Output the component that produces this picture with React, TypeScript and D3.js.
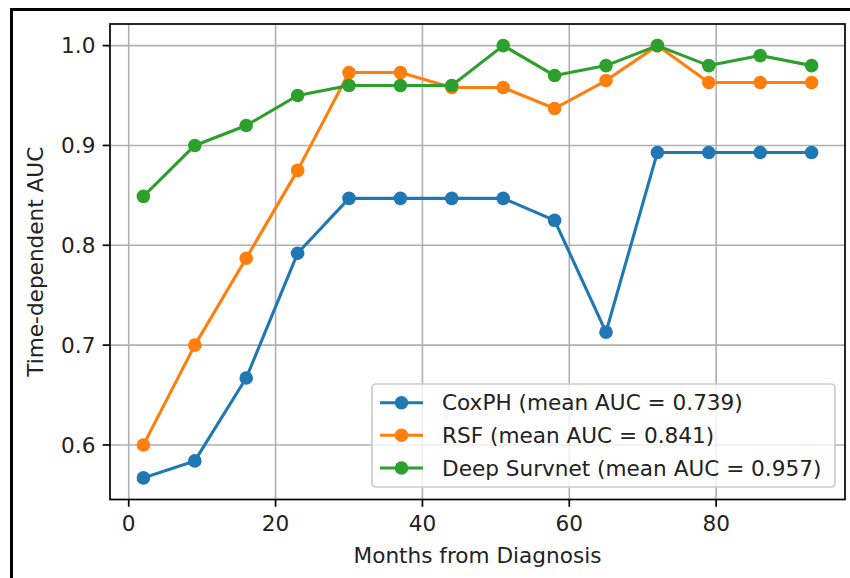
import React from "react";
import * as d3 from "d3";

const months = [2, 9, 16, 23, 30, 37, 44, 51, 58, 65, 72, 79, 86, 93];
const coxph = [0.567, 0.584, 0.667, 0.792, 0.847, 0.847, 0.847, 0.847, 0.825, 0.713, 0.893, 0.893, 0.893, 0.893];
const rsf = [0.6, 0.7, 0.787, 0.875, 0.973, 0.973, 0.958, 0.958, 0.937, 0.965, 1.0, 0.963, 0.963, 0.963];
const deepSurvnet = [0.849, 0.9, 0.92, 0.95, 0.96, 0.96, 0.96, 1.0, 0.97, 0.98, 1.0, 0.98, 0.99, 0.98];
const seriesNames = ["CoxPH (mean AUC = 0.739)", "RSF (mean AUC = 0.841)", "Deep Survnet (mean AUC = 0.957)"];
const seriesColors = ["#1f77b4", "#ff7f0e", "#2ca02c"];
const xTicks = [0, 20, 40, 60, 80];
const yTicks = [0.6, 0.7, 0.8, 0.9, 1.0];

const W = 850;
const H = 578;
const L = 110, R = 845, T = 24, B = 499.5;
const FONT = "'DejaVu Sans', sans-serif";
const FS = 21.6;

export default function App() {
  const allSeries = [coxph, rsf, deepSurvnet];
  const xMin = d3.min(months)!, xMax = d3.max(months)!;
  const xPad = (xMax - xMin) * 0.05;
  const allY = allSeries.flat();
  const yMin = d3.min(allY)!, yMax = d3.max(allY)!;
  const yPad = (yMax - yMin) * 0.05;
  const x = d3.scaleLinear().domain([xMin - xPad, xMax + xPad]).range([L, R]);
  const y = d3.scaleLinear().domain([yMin - yPad, yMax + yPad]).range([B, T]);
  const line = d3.line<[number, number]>().x(d => x(d[0])).y(d => y(d[1]));

  const legX = 372, legY = 384, legW = 463, legH = 103;
  const rowY = [402.7, 435.3, 468];

  return (
    <svg width={W} height={H} style={{ position: "absolute", left: 0, top: 0, background: "#fff" }}>
      <rect x={0} y={0} width={W} height={H} fill="#fff" />
      <rect x={11.5} y={9.5} width={W + 50} height={H + 50} fill="none" stroke="#000" strokeWidth={3} />
      {/* grid */}
      {xTicks.map(t => (
        <line key={"gx" + t} x1={x(t)} x2={x(t)} y1={T} y2={B} stroke="#b0b0b0" strokeWidth={1.6} />
      ))}
      {yTicks.map(t => (
        <line key={"gy" + t} x1={L} x2={R} y1={y(t)} y2={y(t)} stroke="#b0b0b0" strokeWidth={1.6} />
      ))}
      {/* series */}
      {allSeries.map((s, i) => (
        <g key={"s" + i}>
          <path d={line(months.map((m, j) => [m, s[j]] as [number, number]))!} fill="none" stroke={seriesColors[i]} strokeWidth={3.1} strokeLinejoin="round" strokeLinecap="square" />
          {s.map((v, j) => (
            <circle key={j} cx={x(months[j])} cy={y(v)} r={6.8} fill={seriesColors[i]} />
          ))}
        </g>
      ))}
      {/* spines */}
      <rect x={L} y={T} width={R - L} height={B - T} fill="none" stroke="#000" strokeWidth={1.7} />
      {/* ticks */}
      {xTicks.map(t => (
        <g key={"tx" + t}>
          <line x1={x(t)} x2={x(t)} y1={B} y2={B + 7.3} stroke="#000" strokeWidth={1.7} />
          <text x={x(t)} y={B + 14.6} dy="0.76em" textAnchor="middle" fontFamily={FONT} fontSize={FS} fill="#222">{t}</text>
        </g>
      ))}
      {yTicks.map(t => (
        <g key={"ty" + t}>
          <line x1={L - 7.3} x2={L} y1={y(t)} y2={y(t)} stroke="#000" strokeWidth={1.7} />
          <text x={L - 14.6} y={y(t)} dy="0.36em" textAnchor="end" fontFamily={FONT} fontSize={FS} fill="#222">{t.toFixed(1)}</text>
        </g>
      ))}
      {/* axis labels */}
      <text x={(L + R) / 2} y={562.5} textAnchor="middle" fontFamily={FONT} fontSize={FS} fill="#222">Months from Diagnosis</text>
      <text transform={`translate(${42.5},${(T + B) / 2}) rotate(-90)`} textAnchor="middle" fontFamily={FONT} fontSize={FS} fill="#222">Time-dependent AUC</text>
      {/* legend */}
      <rect x={legX} y={legY} width={legW} height={legH} rx={4} ry={4} fill="#fff" fillOpacity={0.8} stroke="#cccccc" strokeWidth={1.7} />
      {seriesNames.map((n, i) => (
        <g key={"lg" + i}>
          <line x1={380} x2={423} y1={rowY[i]} y2={rowY[i]} stroke={seriesColors[i]} strokeWidth={3.1} />
          <circle cx={401.5} cy={rowY[i]} r={6.8} fill={seriesColors[i]} />
          <text x={442} y={rowY[i]} dy="0.36em" fontFamily={FONT} fontSize={FS} fill="#222">{n}</text>
        </g>
      ))}
    </svg>
  );
}
